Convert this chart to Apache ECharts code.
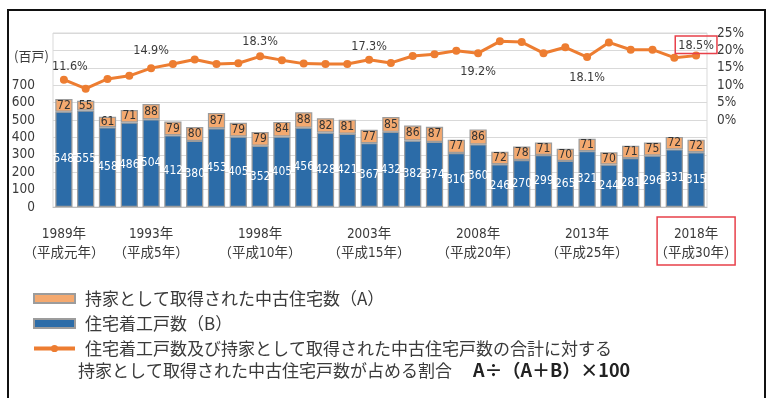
<!DOCTYPE html>
<html>
<head>
<meta charset="utf-8">
<script src="https://cdn.jsdelivr.net/npm/echarts@6/dist/echarts.min.js"></script>
<style>
  html, body { margin: 0; padding: 0; background: #fff; }
  #chart { width: 771px; height: 398px; }
</style>
</head>
<body>
<div id="chart"></div>
<script>
// 調査年（西暦・和暦）
const years = [1989, 1990, 1991, 1992, 1993, 1994, 1995, 1996, 1997, 1998,
               1999, 2000, 2001, 2002, 2003, 2004, 2005, 2006, 2007, 2008,
               2009, 2010, 2011, 2012, 2013, 2014, 2015, 2016, 2017, 2018];
const eraNames = ['平成元年', '平成2年', '平成3年', '平成4年', '平成5年', '平成6年', '平成7年', '平成8年', '平成9年', '平成10年',
                  '平成11年', '平成12年', '平成13年', '平成14年', '平成15年', '平成16年', '平成17年', '平成18年', '平成19年', '平成20年',
                  '平成21年', '平成22年', '平成23年', '平成24年', '平成25年', '平成26年', '平成27年', '平成28年', '平成29年', '平成30年'];
// 目盛りを表示する年
const labeledYears = [1989, 1993, 1998, 2003, 2008, 2013, 2018];

// 持家として取得された中古住宅数（A）［百戸］
const usedHomes = [72, 55, 61, 71, 88, 79, 80, 87, 79, 79,
                   84, 88, 82, 81, 77, 85, 86, 87, 77, 86,
                   72, 78, 71, 70, 71, 70, 71, 75, 72, 72];
// 住宅着工戸数（B）［百戸］
const housingStarts = [548, 555, 458, 486, 504, 412, 380, 453, 405, 352,
                       405, 456, 428, 421, 367, 432, 382, 374, 310, 360,
                       246, 270, 299, 265, 321, 244, 281, 296, 331, 315];
// A÷(A+B)×100 ［%］
const usedShare = [11.6, 9.0, 11.8, 12.7, 14.9, 16.1, 17.4, 16.1, 16.3, 18.3,
                   17.2, 16.2, 16.1, 16.1, 17.3, 16.4, 18.4, 18.9, 19.9, 19.2,
                   22.6, 22.4, 19.2, 20.9, 18.1, 22.3, 20.2, 20.2, 17.9, 18.5];
// 割合の数値を表示する年
const shareLabelYears = [1989, 1993, 1998, 2003, 2008, 2013, 2018];

// 左軸（百戸）・右軸（%）の目盛り
const leftTicks = [0, 100, 200, 300, 400, 500, 600, 700];
const rightTicks = [0, 5, 10, 15, 20, 25];

const NAME_A = '持家として取得された中古住宅数（A）';
const NAME_B = '住宅着工戸数（B）';
const NAME_R = '住宅着工戸数及び持家として取得された中古住宅戸数の合計に対する';

// 数字は字幅の狭い書体（condensed）で描く
const NUM_FONT = "'DejaVu Sans', 'Noto Sans CJK JP', sans-serif";
const NUM_STRETCH = 'condensed';
const JP_FONT = "'Noto Sans CJK JP', sans-serif";
const BLUE = '#2C6CA8';
const LIGHT_ORANGE = '#F4A96F';
const ORANGE = '#ED7D31';
const BAR_EDGE = '#9c9c9c';
const TEXT = '#3a3a3a';

const categories = years.map((y, i) => y + '年\n（' + eraNames[i] + '）');

// ラベル位置（上・下）と微調整
const shareLabelStyle = {
  1989: { position: 'top', distance: 3, offset: [6, 0] },
  1993: { position: 'top', distance: 7 },
  1998: { position: 'top', distance: 4 },
  2003: { position: 'top', distance: 3 },
  2008: { position: 'bottom', distance: 8 },
  2013: { position: 'bottom', distance: 10 },
  2018: { position: 'top', distance: 0, offset: [0, 2], boxed: true }
};

const shareData = usedShare.map((v, i) => {
  const y = years[i];
  if (!shareLabelYears.includes(y)) return v;
  const s = shareLabelStyle[y];
  const label = {
    show: true,
    position: s.position,
    distance: s.distance,
    offset: s.offset || [0, 0],
    formatter: (p) => p.value.toFixed(1) + '%',
    color: TEXT,
    fontSize: 12.5,
    fontWeight: NUM_STRETCH,
    fontFamily: NUM_FONT
  };
  if (s.boxed) {
    Object.assign(label, { borderColor: '#E8404A', borderWidth: 1.5, padding: [3, 3, 2, 3] });
  }
  return { value: v, label };
});

const chart = echarts.init(document.getElementById('chart'), null, { renderer: 'canvas' });

const option = {
  animation: false,
  backgroundColor: '#fff',
  grid: {
    left: 53, right: 64, top: 33, bottom: 191,
    show: true, borderColor: '#d9d9d9', borderWidth: 1
  },
  legend: {
    orient: 'vertical',
    left: 27, top: 285,
    itemWidth: 41, itemHeight: 9,
    itemGap: 8,
    selectedMode: false,
    data: [
      { name: NAME_A, icon: 'rect' },
      { name: NAME_B, icon: 'rect' },
      { name: NAME_R, lineStyle: { width: 4 } }
    ],
    textStyle: { color: TEXT, fontSize: 17, fontFamily: JP_FONT, padding: [0, 0, 0, 5] }
  },
  xAxis: {
    type: 'category',
    data: categories,
    axisTick: { show: false },
    axisLine: { lineStyle: { color: '#bfbfbf' } },
    axisLabel: {
      interval: (idx) => labeledYears.includes(years[idx]),
      color: TEXT,
      fontSize: 13.5,
      fontWeight: NUM_STRETCH,
      lineHeight: 19,
      margin: 18,
      fontFamily: NUM_FONT
    }
  },
  yAxis: [
    {
      type: 'value', min: 0, max: 1000, interval: 100,
      axisLine: { show: false }, axisTick: { show: false },
      splitLine: { lineStyle: { color: '#d9d9d9' } },
      axisLabel: {
        color: TEXT, fontSize: 13.5, margin: 18, fontFamily: NUM_FONT, fontWeight: NUM_STRETCH,
        formatter: (v) => leftTicks.includes(v) ? String(v) : ''
      }
    },
    {
      type: 'value', min: -25, max: 25, interval: 5, position: 'right',
      axisLine: { show: false }, axisTick: { show: false },
      splitLine: { show: false },
      axisLabel: {
        color: TEXT, fontSize: 13.5, margin: 10, fontFamily: NUM_FONT, fontWeight: NUM_STRETCH,
        formatter: (v) => rightTicks.includes(v) ? v + '%' : ''
      }
    }
  ],
  series: [
    {
      name: NAME_B,
      type: 'bar',
      stack: 'total',
      barWidth: '79%',
      data: housingStarts,
      itemStyle: { color: BLUE, borderColor: BAR_EDGE, borderWidth: 1.2 },
      label: {
        show: true, position: 'inside', color: '#fff',
        fontSize: 12, fontWeight: NUM_STRETCH, fontFamily: NUM_FONT
      }
    },
    {
      name: NAME_A,
      type: 'bar',
      stack: 'total',
      barWidth: '79%',
      data: usedHomes,
      itemStyle: { color: LIGHT_ORANGE, borderColor: BAR_EDGE, borderWidth: 1.2 },
      label: {
        show: true, position: 'inside', color: '#333',
        fontSize: 12, fontWeight: NUM_STRETCH, fontFamily: NUM_FONT
      }
    },
    {
      name: NAME_R,
      type: 'line',
      yAxisIndex: 1,
      data: shareData,
      symbol: 'circle',
      symbolSize: 8,
      lineStyle: { color: ORANGE, width: 3 },
      itemStyle: { color: ORANGE },
      z: 5
    }
  ],
  graphic: [
    {
      id: 'frame', type: 'rect',
      shape: { x: 8, y: 10, width: 757, height: 400 },
      style: { fill: 'none', stroke: '#111', lineWidth: 2 },
      silent: true
    },
    {
      id: 'unit', type: 'text', left: 14, top: 50,
      style: { text: '(百戸)', fill: TEXT, font: "13px " + JP_FONT }
    },
    {
      id: 'formulaText', type: 'text', left: 78, top: 362,
      style: { text: '持家として取得された中古住宅戸数が占める割合', fill: TEXT, font: "17px " + JP_FONT }
    },
    {
      id: 'formula', type: 'text', left: 473, top: 361,
      style: { text: 'A÷（A＋B）×100', fill: '#222', font: "bold 18px " + JP_FONT }
    }
  ]
};

chart.setOption(option);

// 2018年の目盛りラベルを赤枠で囲む
const lastX = chart.convertToPixel({ xAxisIndex: 0 }, years.length - 1);
const baseY = chart.convertToPixel({ yAxisIndex: 0 }, 0);
chart.setOption({
  graphic: [{
    id: 'lastYearBox', type: 'rect',
    shape: { x: lastX - 39, y: baseY + 10, width: 78, height: 48 },
    style: { fill: 'none', stroke: '#E8404A', lineWidth: 1.5 },
    silent: true
  }]
});
</script>
</body>
</html>
